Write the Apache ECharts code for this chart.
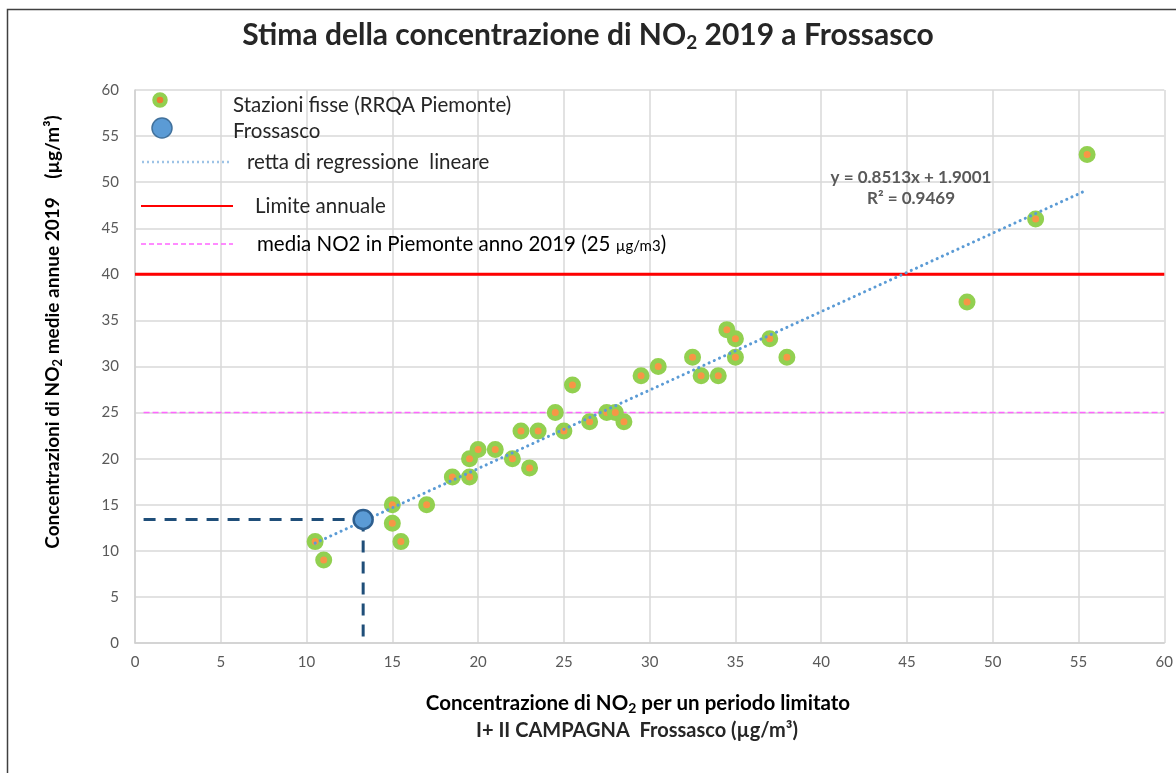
<!DOCTYPE html>
<html>
<head>
<meta charset="utf-8">
<script src="https://cdn.jsdelivr.net/npm/echarts@6/dist/echarts.min.js"></script>
<style>html,body{margin:0;padding:0;background:#fff}#c{width:1176px;height:773px}</style>
</head>
<body>
<div id="c"></div>
<script>
// ---- data ----
const stationsX = [10.5, 11, 15, 15, 15.5, 17, 18.5, 19.5, 19.5, 20, 21, 22, 22.5, 23, 23.5, 24.5, 25, 25.5, 26.5, 27.5, 28, 28.5, 29.5, 30.5, 32.5, 33, 34, 34.5, 35, 35, 37, 38, 48.5, 52.5, 55.5];
const stationsY = [11, 9, 15, 13, 11, 15, 18, 18, 20, 21, 21, 20, 23, 19, 23, 25, 23, 28, 24, 25, 25, 24, 29, 30, 31, 29, 29, 34, 33, 31, 33, 31, 37, 46, 53];
const frossascoX = [13.3];
const frossascoY = [13.4];
const regressionX = [10.5, 55.5];
const regressionY = [10.84, 49.15];
const limitX = [0, 60];
const limitY = [40, 40];
const mediaX = [0.5, 60];
const mediaY = [25, 25];
const guideHX = [0.5, 13.3];
const guideHY = [13.4, 13.4];
const guideVX = [13.3, 13.3];
const guideVY = [13.4, 0];
const axisTicks = [0, 5, 10, 15, 20, 25, 30, 35, 40, 45, 50, 55, 60];
const equationText = 'y = 0.8513x + 1.9001';
const r2Text = 'R² = 0.9469';

const zip = (a, b) => a.map((v, i) => [v, b[i]]);
const FONT = 'Lato, "Open Sans", sans-serif';
const TXT = '#262626';
const GRAY = '#595959';

const chart = echarts.init(document.getElementById('c'), null, {renderer: 'canvas'});

const axisCommon = {
  type: 'value', min: axisTicks[0], max: axisTicks[axisTicks.length - 1], interval: 5,
  axisLine: {show: true, lineStyle: {color: '#d0d0d0', width: 1.5}},
  axisTick: {show: false},
  splitLine: {show: true, lineStyle: {color: '#d9d9d9', width: 1.5}},
  axisLabel: {color: GRAY, fontFamily: FONT, fontSize: 15}
};

const option = {
  backgroundColor: '#ffffff',
  animation: false,
  title: {
    left: 'center', top: 11,
    text: '{a|Stima della concentrazione di NO}{s|2}{a| 2019 a Frossasco}',
    textStyle: {
      rich: {
        a: {fontFamily: FONT, fontSize: 30, fontWeight: 'bold', color: TXT, lineHeight: 38},
        s: {fontFamily: FONT, fontSize: 19, fontWeight: 'bold', color: TXT, padding: [16, 0, 0, 0], lineHeight: 38}
      }
    }
  },
  grid: {left: 135, right: 8, top: 90, bottom: 130, containLabel: false},
  xAxis: Object.assign({}, axisCommon, {axisLabel: Object.assign({}, axisCommon.axisLabel, {margin: 12})}),
  yAxis: Object.assign({}, axisCommon, {axisLabel: Object.assign({}, axisCommon.axisLabel, {margin: 16})}),
  series: [
    {
      type: 'line', name: 'media', data: zip(mediaX, mediaY), symbol: 'none', z: 3,
      lineStyle: {color: '#ff66ff', width: 1.5, type: [6, 3]}
    },
    {
      type: 'line', name: 'limite', data: zip(limitX, limitY), symbol: 'none', z: 3,
      lineStyle: {color: '#ff0000', width: 3}
    },
    {
      type: 'line', name: 'guideH', data: zip(guideHX, guideHY), symbol: 'none', z: 4,
      lineStyle: {color: '#1f4e79', width: 3, type: [12, 9]}
    },
    {
      type: 'line', name: 'guideV', data: zip(guideVX, guideVY), symbol: 'none', z: 4,
      lineStyle: {color: '#1f4e79', width: 3, type: [12, 9]}
    },
    {
      type: 'scatter', name: 'Stazioni fisse', data: zip(stationsX, stationsY), z: 5,
      symbol: 'circle', symbolSize: 12,
      itemStyle: {color: '#f79646', borderColor: '#92d050', borderWidth: 5, opacity: 1}
    },
    {
      type: 'line', name: 'regressione', data: zip(regressionX, regressionY), symbol: 'none', z: 6,
      lineStyle: {color: '#5b9bd5', width: 3, type: [0.1, 5.6], cap: 'round'}
    },
    {
      type: 'scatter', name: 'Frossasco', data: zip(frossascoX, frossascoY), z: 7,
      symbol: 'circle', symbolSize: 19,
      itemStyle: {color: '#5b9bd5', borderColor: '#2e5f8f', borderWidth: 2.5, opacity: 1}
    }
  ],
  graphic: [
    // outer border
    {type: 'rect', shape: {x: 7.5, y: 9.5, width: 1300, height: 900}, style: {fill: 'none', stroke: '#404040', lineWidth: 1.5}, silent: true, z: 0},
    // legend
    {type: 'circle', shape: {cx: 160, cy: 100, r: 5.5}, style: {fill: '#ed7d31', stroke: '#92d050', lineWidth: 4.5}, z: 10},
    {type: 'text', x: 233, y: 105, style: {text: 'Stazioni fisse (RRQA Piemonte)', font: '20.5px ' + FONT, fill: TXT, textVerticalAlign: 'middle'}, z: 10},
    {type: 'circle', shape: {cx: 162, cy: 128, r: 10}, style: {fill: '#5b9bd5', stroke: '#41719c', lineWidth: 1.5}, z: 10},
    {type: 'text', x: 233, y: 131, style: {text: 'Frossasco', font: '20.5px ' + FONT, fill: TXT, textVerticalAlign: 'middle'}, z: 10},
    {type: 'line', shape: {x1: 142, y1: 162, x2: 230, y2: 162}, style: {stroke: '#9dc3e6', lineWidth: 2.5, lineDash: [2, 3]}, z: 10},
    {type: 'text', x: 247, y: 162, style: {text: 'retta di regressione  lineare', font: '20.5px ' + FONT, fill: TXT, textVerticalAlign: 'middle'}, z: 10},
    {type: 'line', shape: {x1: 141, y1: 206, x2: 233, y2: 206}, style: {stroke: '#ff0000', lineWidth: 2}, z: 10},
    {type: 'text', x: 255, y: 206, style: {text: 'Limite annuale', font: '20.5px ' + FONT, fill: TXT, textVerticalAlign: 'middle'}, z: 10},
    {type: 'line', shape: {x1: 141, y1: 244, x2: 233, y2: 244}, style: {stroke: '#ff66ff', lineWidth: 1.5, lineDash: [5, 3]}, z: 10},
    {type: 'text', x: 257, y: 244, style: {
      text: '{a|media NO2 in Piemonte anno 2019 (25 }{b|µg/m3}{a|)}',
      textVerticalAlign: 'middle',
      rich: {a: {fontFamily: FONT, fontSize: 20.5, color: TXT}, b: {fontFamily: FONT, fontSize: 15, color: TXT, padding: [4, 0, 0, 0]}}
    }, z: 10},
    // equation
    {type: 'text', x: 911, y: 178, style: {text: equationText, font: 'bold 17px ' + FONT, fill: GRAY, textAlign: 'center', textVerticalAlign: 'middle'}, z: 10},
    {type: 'text', x: 911, y: 199, style: {text: r2Text, font: 'bold 17px ' + FONT, fill: GRAY, textAlign: 'center', textVerticalAlign: 'middle'}, z: 10},
    // x axis name
    {type: 'text', x: 638, y: 703, style: {
      text: '{a|Concentrazione di NO}{s|2}{a| per un periodo limitato}',
      textAlign: 'center', textVerticalAlign: 'middle',
      rich: {a: {fontFamily: FONT, fontSize: 20.5, fontWeight: 'bold', color: TXT, lineHeight: 26}, s: {fontFamily: FONT, fontSize: 14, fontWeight: 'bold', color: TXT, padding: [10, 0, 0, 0], lineHeight: 26}}
    }, z: 10},
    {type: 'text', x: 637, y: 731, style: {
      text: 'I+ II CAMPAGNA  Frossasco (µg/m³)',
      font: 'bold 20px ' + FONT, fill: TXT, textAlign: 'center', textVerticalAlign: 'middle'
    }, z: 10},
    // y axis name
    {type: 'text', x: 53, y: 332, rotation: Math.PI / 2, style: {
      text: '{a|Concentrazioni di NO}{s|2}{a| medie annue 2019    (µg/m³)}',
      textAlign: 'center', textVerticalAlign: 'middle',
      rich: {a: {fontFamily: FONT, fontSize: 19, fontWeight: 'bold', color: TXT, lineHeight: 24}, s: {fontFamily: FONT, fontSize: 13, fontWeight: 'bold', color: TXT, padding: [9, 0, 0, 0], lineHeight: 24}}
    }, z: 10}
  ]
};
chart.setOption(option);
</script>
</body>
</html>
